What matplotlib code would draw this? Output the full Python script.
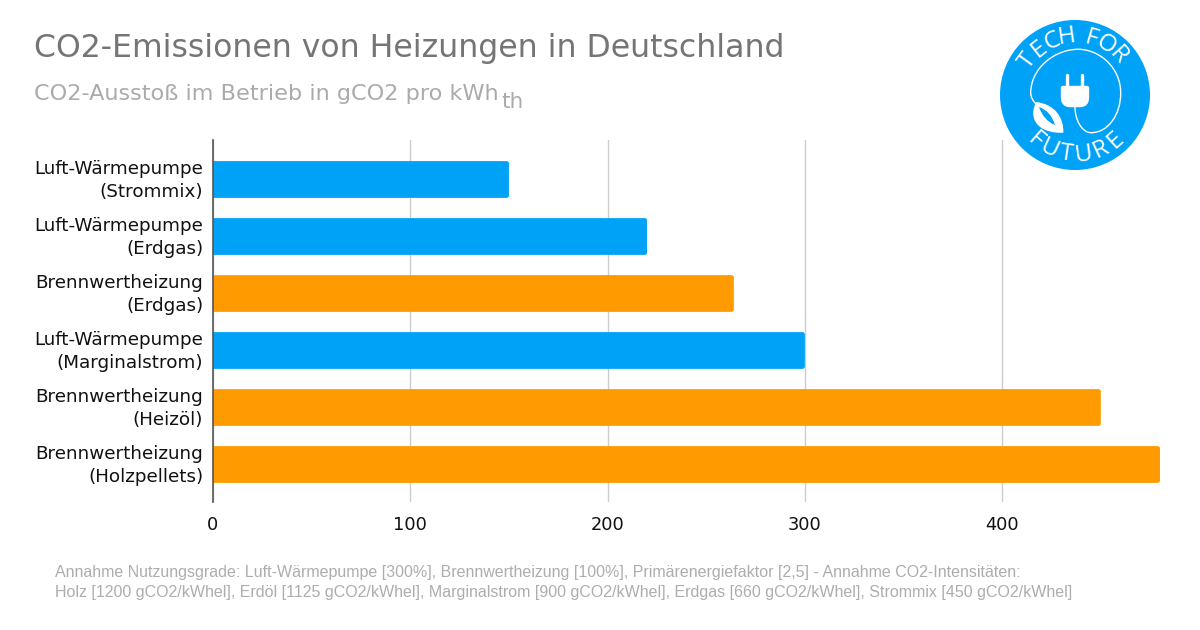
import numpy as np
import matplotlib
matplotlib.use("Agg")
import matplotlib.pyplot as plt
from matplotlib.patches import Circle, PathPatch, FancyBboxPatch
from matplotlib.path import Path
from matplotlib.transforms import ScaledTranslation

# Data
labels = [
    "Luft-Wärmepumpe\n(Strommix)",
    "Luft-Wärmepumpe\n(Erdgas)",
    "Brennwertheizung\n(Erdgas)",
    "Luft-Wärmepumpe\n(Marginalstrom)",
    "Brennwertheizung\n(Heizöl)",
    "Brennwertheizung\n(Holzpellets)",
]
values = [150, 220, 264, 300, 450, 480]
kinds = ["wp", "wp", "bw", "wp", "bw", "bw"]
ticks = [0, 100, 200, 300, 400]

BLUE = "#00a2f8"
ORANGE = "#ff9b00"
colors = {"wp": BLUE, "bw": ORANGE}

W, H = 1200, 630
fig = plt.figure(figsize=(12, 6.3), dpi=100, facecolor="white")

# Chart area
left, right, top, bottom = 213, 1160, 140, 502
ax = fig.add_axes([left / W, 1 - bottom / H, (right - left) / W, (bottom - top) / H])
y = np.arange(len(values))
bar_h = 0.645
bars = ax.barh(y, values, height=bar_h, color=[colors[k] for k in kinds],
               linewidth=0, zorder=3)
ax.set_ylim(5.658, -0.693)
ax.set_xlim(0, 480)

# Round the right corners of the bars a little
for bar, pos, val in zip(bars, y, values):
    clip = FancyBboxPatch((-5, pos - bar_h / 2), val + 5, bar_h,
                          boxstyle="round,pad=0,rounding_size=1.2",
                          mutation_aspect=0.0346, transform=ax.transData)
    bar.set_clip_path(clip)

ax.set_yticks(y)
ax.set_yticklabels(labels, fontsize=13.2, color="#111111", linespacing=1.35)
ax.set_xticks(ticks)
ax.set_xticklabels([str(t) for t in ticks], fontsize=12.8, color="#111111")
ax.tick_params(axis="y", length=0, pad=7)
ax.tick_params(axis="x", length=0, pad=10)
shift = ScaledTranslation(0, 2.5 / 72, fig.dpi_scale_trans)
for lab in ax.get_yticklabels():
    lab.set_transform(lab.get_transform() + shift)
ax.grid(axis="x", color="#cccccc", linewidth=1, zorder=0)
ax.set_axisbelow(True)
for side in ["top", "right", "bottom"]:
    ax.spines[side].set_visible(False)
ax.spines["left"].set_color("#555555")
ax.spines["left"].set_linewidth(1.2)
ax.spines["left"].set_zorder(5)

# Overlay in pixel coordinates for title, footer and logo
ov = fig.add_axes([0, 0, 1, 1], zorder=10)
ov.set_xlim(0, W)
ov.set_ylim(H, 0)
ov.axis("off")
ov.patch.set_alpha(0)

ov.text(34, 48.5, "CO2-Emissionen von Heizungen in Deutschland", fontsize=22.7,
        color="#757575", va="center", ha="left")
ov.text(34, 94, "CO2-Ausstoß im Betrieb in gCO2 pro kWh", fontsize=16.1,
        color="#ababab", va="center", ha="left")
ov.text(501, 102, "th", fontsize=15.5, color="#ababab", va="center", ha="left")

footer = [
    "Annahme Nutzungsgrade: Luft-Wärmepumpe [300%], Brennwertheizung [100%], Primärenergiefaktor [2,5] - Annahme CO2-Intensitäten:",
    "Holz [1200 gCO2/kWhel], Erdöl [1125 gCO2/kWhel], Marginalstrom [900 gCO2/kWhel], Erdgas [660 gCO2/kWhel], Strommix [450 gCO2/kWhel]",
]
ov.text(55, 572, footer[0], fontsize=11.54, color="#adadad", family="Liberation Sans", va="center")
ov.text(55, 592, footer[1], fontsize=11.54, color="#adadad", family="Liberation Sans", va="center")

# Logo
cx, cy, r = 1075, 95, 75
ov.add_patch(Circle((cx, cy), r, color=BLUE, lw=0))


def curved(text, radius, angles, upper=True):
    for ch, a in zip(text, angles):
        px = cx + radius * np.sin(np.radians(a))
        py = cy - radius * np.cos(np.radians(a))
        rot = -a if upper else 180 - a
        ov.text(px, py, ch, color="white", fontsize=17.5, rotation=rot,
                rotation_mode="anchor", ha="center", va="center",
                family="Open Sans")


curved("TECHFOR", 58.5, [-54, -38, -23, -8, 16, 32, 48])
curved("FUTURE", 60, [221, 205, 188, 172, 155, 138], upper=False)

# Cable
cable = Path(
    [(1075, 107), (1075, 120), (1082, 132.7), (1091, 132.7),
     (1108, 132.7), (1120.7, 115), (1120.7, 93),
     (1120.7, 68), (1100, 49.3), (1078, 49.3),
     (1055, 49.3), (1030.7, 68), (1030.7, 93),
     (1030.7, 97), (1033, 101), (1036, 104)],
    [Path.MOVETO] + [Path.CURVE4] * 15,
)
ov.add_patch(PathPatch(cable, fc="none", ec="white", lw=1.0))

# Plug
plug = Path(
    [(1061, 88), (1061, 86), (1063, 86), (1087, 86), (1089, 86), (1089, 88),
     (1089, 97), (1089, 107), (1080, 107), (1070, 107), (1061, 107),
     (1061, 97), (1061, 88)],
    [Path.MOVETO, Path.CURVE3, Path.CURVE3, Path.LINETO, Path.CURVE3, Path.CURVE3,
     Path.LINETO, Path.CURVE3, Path.CURVE3, Path.LINETO, Path.CURVE3,
     Path.CURVE3, Path.LINETO],
)
ov.add_patch(PathPatch(plug, fc="white", ec="white", lw=0.3))
for px in (1067.3, 1082.3):
    ov.plot([px, px], [75, 88], color="white", lw=2.4, solid_capstyle="round")

# Leaf
leaf = Path(
    [(1036, 102), (1055, 104), (1064, 118), (1063.3, 132.7),
     (1045, 134), (1026, 124), (1036, 102)],
    [Path.MOVETO] + [Path.CURVE4] * 6,
)
ov.add_patch(PathPatch(leaf, fc="white", ec="none"))
slit = Path(
    [(1039, 107), (1051, 111), (1055, 125), (1044, 121), (1039, 107)],
    [Path.MOVETO, Path.CURVE3, Path.CURVE3, Path.CURVE3, Path.CURVE3],
)
ov.add_patch(PathPatch(slit, fc=BLUE, ec="none"))

fig.savefig("out.png", dpi=100, facecolor="white")
